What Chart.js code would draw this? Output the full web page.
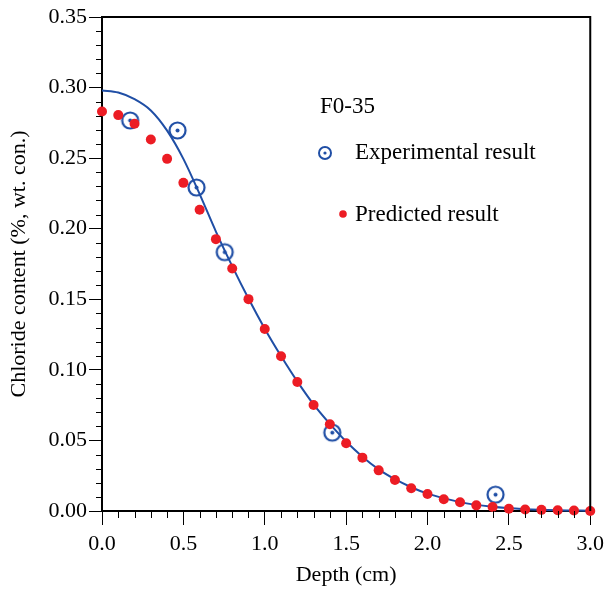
<!DOCTYPE html>
<html>
<head>
<meta charset="utf-8">
<script src="https://cdn.jsdelivr.net/npm/chart.js@4.4.1/dist/chart.umd.min.js"></script>
<style>
    body { margin: 0; background: #fff; }
    #wrap { width: 610px; height: 592px; }
</style>
</head>
<body>
<div id="wrap"><canvas id="chlorideChart" width="610" height="592"></canvas></div>
<script>
/*************** DATA ***************/
// predicted result (red dots)
const predDepth = [0.0, 0.1, 0.2, 0.3, 0.4, 0.5, 0.6, 0.7, 0.8, 0.9, 1.0, 1.1, 1.2, 1.3, 1.4, 1.5,
                   1.6, 1.7, 1.8, 1.9, 2.0, 2.1, 2.2, 2.3, 2.4, 2.5, 2.6, 2.7, 2.8, 2.9, 3.0];
const predValue = [0.283, 0.2805, 0.2744, 0.2632, 0.2495, 0.2325, 0.2134, 0.1926, 0.1718, 0.1501,
                   0.129, 0.1097, 0.0914, 0.0751, 0.0614, 0.048, 0.0378, 0.0288, 0.022, 0.0161,
                   0.012, 0.0083, 0.0062, 0.004, 0.0028, 0.0016, 0.001, 0.0008, 0.0005, 0.0003, 0.0];

// experimental result (circles)
const expDepth = [0.173, 0.464, 0.581, 0.754, 1.415, 2.418];
const expValue = [0.2767, 0.2696, 0.2292, 0.1834, 0.0555, 0.0116];

// fitted curve (blue line)
const curveDepth = [0.0, 0.1, 0.2, 0.3, 0.4, 0.5, 0.6, 0.7, 0.8, 0.9, 1.0, 1.1, 1.2, 1.3, 1.4,
                    1.5, 1.6, 1.7, 1.8, 1.9, 2.0, 2.2, 2.4, 2.6, 2.8, 3.0];
const curveValue = [0.298, 0.2965, 0.2918, 0.2838, 0.2695, 0.2495, 0.2245, 0.198, 0.1735, 0.1505,
                    0.1292, 0.1098, 0.0918, 0.0755, 0.0617, 0.0492, 0.0385, 0.0295, 0.0225, 0.0168,
                    0.0123, 0.0063, 0.003, 0.0013, 0.0005, 0.0002];

const xTicks = [0.0, 0.5, 1.0, 1.5, 2.0, 2.5, 3.0];
const yTicks = [0.00, 0.05, 0.10, 0.15, 0.20, 0.25, 0.30, 0.35];

const sampleName = 'F0-35';
const expLabel = 'Experimental result';
const predLabel = 'Predicted result';

/*************** STYLE ***************/
const blue = '#1f4ea5';
const red = '#ec1c24';
const fontFam = '"Liberation Serif", "Times New Roman", serif';

function toPoints(xs, ys) {
    return xs.map((x, i) => ({ x: x, y: ys[i] }));
}

// circle with a dot in the middle
function makeCircleDot(r, lw, dotR) {
    const c = document.createElement('canvas');
    const s = Math.ceil(2 * r + lw + 2);
    c.width = s;
    c.height = s;
    const g = c.getContext('2d');
    g.strokeStyle = blue;
    g.lineWidth = lw;
    g.beginPath();
    g.arc(s / 2, s / 2, r, 0, Math.PI * 2);
    g.stroke();
    g.fillStyle = blue;
    g.beginPath();
    g.arc(s / 2, s / 2, dotR, 0, Math.PI * 2);
    g.fill();
    return c;
}
const circleDot = makeCircleDot(8, 2.2, 2);

// minor ticks, frame and legend text
const extrasPlugin = {
    id: 'extras',
    afterDraw(chart) {
        const ctx = chart.ctx;
        const area = chart.chartArea;
        const xs = chart.scales.x;
        const ys = chart.scales.y;
        ctx.save();
        ctx.strokeStyle = '#000';
        ctx.lineWidth = 1;
        // minor ticks y
        for (let i = 0; i <= 35; i++) {
            if (i % 5 === 0) continue;
            const py = Math.round(ys.getPixelForValue(i / 100)) + 0.5;
            ctx.beginPath();
            ctx.moveTo(area.left - 6, py);
            ctx.lineTo(area.left, py);
            ctx.stroke();
        }
        // minor ticks x
        for (let i = 0; i <= 30; i++) {
            if (i % 5 === 0) continue;
            const px = Math.round(xs.getPixelForValue(i / 10)) + 0.5;
            ctx.beginPath();
            ctx.moveTo(px, area.bottom);
            ctx.lineTo(px, area.bottom + 7);
            ctx.stroke();
        }
        // top and right frame
        ctx.lineWidth = 2;
        ctx.beginPath();
        ctx.moveTo(area.left, area.top);
        ctx.lineTo(area.right, area.top);
        ctx.lineTo(area.right, area.bottom);
        ctx.stroke();

        // legend
        ctx.fillStyle = '#000';
        ctx.font = '23px ' + fontFam;
        ctx.textBaseline = 'middle';
        ctx.textAlign = 'left';
        ctx.fillText(sampleName, 320, 107);
        ctx.drawImage(makeCircleDot(6, 2, 1.6), 325 - 8, 153 - 8);
        ctx.fillText(expLabel, 355, 153);
        ctx.fillStyle = red;
        ctx.beginPath();
        ctx.arc(343, 214, 3.8, 0, Math.PI * 2);
        ctx.fill();
        ctx.fillStyle = '#000';
        ctx.fillText(predLabel, 355, 215);
        ctx.restore();
    }
};

/*************** CHART ***************/
const data = {
    datasets: [{
        label: predLabel,
        data: toPoints(predDepth, predValue),
        pointStyle: 'circle',
        pointRadius: 5,
        pointBackgroundColor: red,
        pointBorderWidth: 0,
        showLine: false,
        clip: false,
        order: 0
    }, {
        label: expLabel,
        data: toPoints(expDepth, expValue),
        pointStyle: circleDot,
        pointRadius: 8,
        showLine: false,
        clip: false,
        order: 1
    }, {
        label: 'Model',
        data: toPoints(curveDepth, curveValue),
        showLine: true,
        borderColor: blue,
        borderWidth: 2,
        pointRadius: 0,
        cubicInterpolationMode: 'monotone',
        clip: false,
        order: 2
    }]
};

const options = {
    responsive: false,
    animation: false,
    layout: { padding: { top: 17, right: 17, left: 0, bottom: 0 } },
    plugins: {
        legend: { display: false },
        tooltip: { enabled: false }
    },
    scales: {
        x: {
            type: 'linear',
            min: 0,
            max: 3,
            afterBuildTicks: (axis) => { axis.ticks = xTicks.map(v => ({ value: v })); },
            afterFit: (axis) => { axis.height = 81; },
            border: { display: true, color: '#000', width: 2 },
            grid: { drawOnChartArea: false, tickLength: 14, tickColor: '#000', tickWidth: 1 },
            ticks: {
                color: '#000',
                padding: 6,
                font: { family: fontFam, size: 22 },
                maxRotation: 0,
                callback: (v) => v.toFixed(1)
            },
            title: {
                display: true,
                text: 'Depth (cm)',
                color: '#000',
                font: { family: fontFam, size: 22 },
                padding: { top: 0, bottom: 4 }
            }
        },
        y: {
            type: 'linear',
            min: 0,
            max: 0.35,
            afterBuildTicks: (axis) => { axis.ticks = yTicks.map(v => ({ value: v })); },
            afterFit: (axis) => { axis.width = 102; },
            border: { display: true, color: '#000', width: 2 },
            grid: { drawOnChartArea: false, tickLength: 13, tickColor: '#000', tickWidth: 1 },
            ticks: {
                color: '#000',
                padding: 2,
                font: { family: fontFam, size: 22 },
                callback: (v) => v.toFixed(2)
            },
            title: {
                display: true,
                text: 'Chloride content (%, wt. con.)',
                color: '#000',
                font: { family: fontFam, size: 22 },
                padding: { top: 6, bottom: 0 }
            }
        }
    }
};

const ctx = document.getElementById('chlorideChart').getContext('2d');
const chlorideChart = new Chart(ctx, {
    type: 'scatter',
    data: data,
    options: options,
    plugins: [extrasPlugin]
});
</script>
</body>
</html>
